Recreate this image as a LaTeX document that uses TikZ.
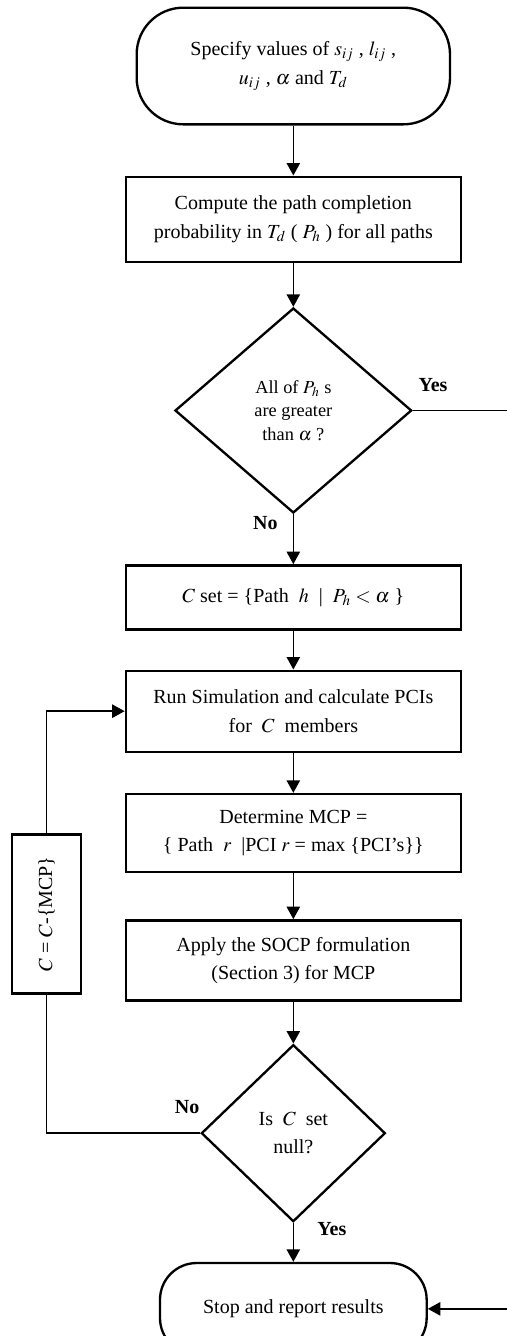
\documentclass[tikz,border=0pt]{standalone}
\usepackage{mathptmx}
\usepackage{fontspec}
\setmainfont{Liberation Serif}
\usetikzlibrary{arrows.meta,positioning,shapes.geometric}

\begin{document}
\begin{tikzpicture}[font=\fontsize{12}{17}\selectfont,
    procbox/.style={draw,line width=1.4pt,minimum width=201pt,align=center,inner sep=2pt},
    termbox/.style={draw,line width=1.4pt,rounded corners=#1,align=center},
    termbox/.default=25pt,
    decide/.style={draw,diamond,line width=1.4pt,align=center,inner sep=0pt},
    flow/.style={line width=0.9pt,-{Triangle[length=7.5pt,width=8pt]}},
    tag/.style={font=\fontsize{12}{14}\selectfont\bfseries,inner sep=1pt}]
    \useasboundingbox (0,0) rectangle (304.2pt,-801.6pt);
    \node[termbox=28pt,minimum width=188pt,minimum height=70pt] (spec) at (176pt,-39.6pt) {Specify values of $s_{ij}$ , $l_{ij}$ ,\\ $u_{ij}$ , $\alpha$ and $T_d$};
    \node[procbox,minimum height=51pt,below=30pt of spec] (prob) {Compute the path completion\\ probability in $T_d$ ( $P_h$ ) for all paths};
    \node[decide,minimum width=142pt,minimum height=123pt,below=26.4pt of prob,font=\fontsize{11}{14}\selectfont] (allok) {All of $P_h$ s\\ are greater\\ than $\alpha$ ?};
    \node[procbox,minimum height=38.4pt,below=30pt of allok] (cset) {$C$ set = \{Path~ $h$ ~|~ $P_h<\alpha$ \}};
    \node[procbox,minimum height=48.6pt,below=23.4pt of cset] (sim) {Run Simulation and calculate PCIs\\ for~ $C$ ~members};
    \node[procbox,minimum height=46.8pt,below=24pt of sim] (mcp) {Determine MCP =\\ \{ Path~ $r$ ~|PCI $r$ = max \{PCI's\}\}};
    \node[procbox,minimum height=48pt,below=27.6pt of mcp] (socp) {Apply the SOCP formulation\\ (Section 3) for MCP};
    \node[decide,minimum width=110.4pt,minimum height=106.2pt,below=25.2pt of socp] (empty) {Is~ $C$ ~set\\ null?};
    \node[termbox=22pt,minimum width=160pt,minimum height=55pt,below=23.4pt of empty] (stop) {Stop and report results};
    \node[procbox,minimum width=41.4pt,minimum height=95.4pt] (drop) at (27.9pt,-548.4pt) {\rotatebox{90}{$C$ = $C$-\{MCP\}}};
    \coordinate (rim) at (306pt,0);

    \draw[flow] (spec) -- (prob);
    \draw[flow] (prob) -- (allok);
    \draw[flow] (allok) -- node[tag,pos=0,anchor=north east,xshift=-8pt]{No} (cset);
    \draw[flow] (cset) -- (sim);
    \draw[flow] (sim) -- (mcp);
    \draw[flow] (mcp) -- (socp);
    \draw[flow] (socp) -- (empty);
    \draw[flow] (empty) -- node[tag,pos=0,anchor=north west,xshift=13pt,yshift=2pt]{Yes} (stop);
    \draw[flow] (allok.east) -- node[tag,pos=0,anchor=south west,xshift=2pt,yshift=10pt]{Yes} (allok.east -| rim) |- (stop.east);
    \draw[line width=0.9pt] (empty.west) -- node[tag,pos=0,anchor=south east,xshift=1pt,yshift=10pt]{No} (empty.west -| drop.south) -- (drop.south);
    \draw[flow] (drop.north) |- (sim.west);
\end{tikzpicture}
\end{document}
